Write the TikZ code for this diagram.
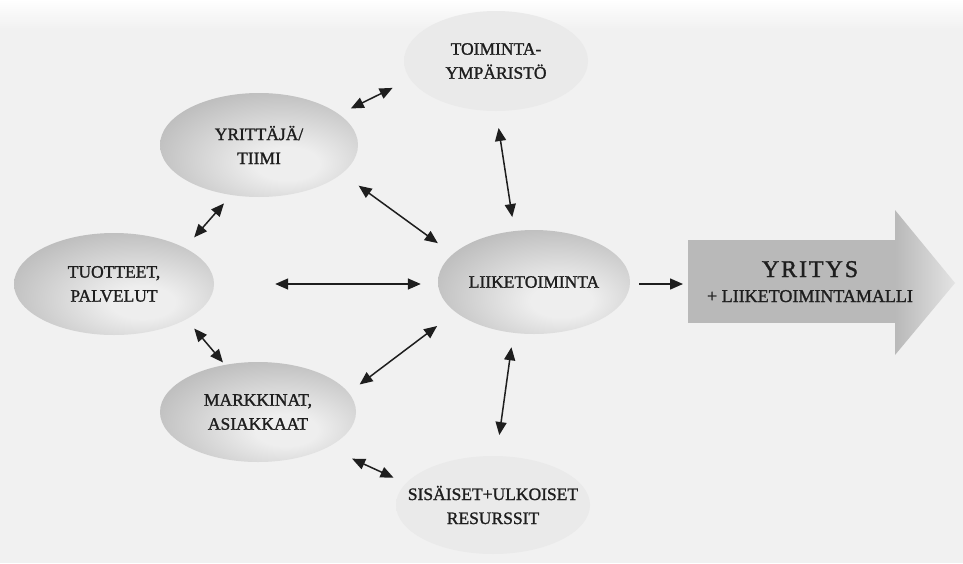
\documentclass[tikz,border=0pt]{standalone}
\usepackage{fontspec}
\setmainfont{Liberation Serif}
\newfontfamily\labelfont{Liberation Serif}[FakeBold=1.3]
\usetikzlibrary{shapes.geometric,arrows.meta}

\definecolor{paper}{HTML}{F1F1F1}
\definecolor{ink}{HTML}{1E1E1E}
\definecolor{ovalin}{HTML}{EEEEEE}
\definecolor{ovalout}{HTML}{A0A0A0}
\definecolor{palein}{HTML}{EAEAEA}
\definecolor{paleout}{HTML}{DADADA}

% soft radial fills for the ovals (the darker ones are lit from lower right)
\pgfdeclareradialshading{darkoval}{\pgfpoint{8bp}{-10bp}}{%
  color(0bp)=(ovalin); color(8bp)=(ovalin); color(48bp)=(ovalout); color(80bp)=(ovalout)}
\pgfdeclareradialshading{paleoval}{\pgfpoint{0bp}{0bp}}{%
  color(0bp)=(palein); color(28bp)=(palein); color(50bp)=(paleout); color(80bp)=(paleout)}

\begin{document}
\begin{tikzpicture}[x=1pt,y=-1pt,
  oval/.style={ellipse, inner sep=0pt, text=ink, align=center,
    font=\labelfont\fontsize{17.5}{24}\selectfont},
  darkfill/.style={shading=darkoval},
  palefill/.style={shading=paleoval},
  tip/.tip={Triangle[length=13pt,width=11pt]},
  link/.style={draw=ink, line width=1.5pt, tip-tip},
  feed/.style={draw=ink, line width=1.5pt, -tip},
]
\useasboundingbox (0,0) rectangle (963,563);
\fill[paper] (0,0) rectangle (963,563);
\shade[top color=white, bottom color=paper] (0,0) rectangle (963,28);

% ovals
\node[oval, palefill, minimum width=184pt, minimum height=100pt] (env) at (496,61) {TOIMINTA-\\YMPÄRISTÖ};
\node[oval, darkfill, minimum width=198pt, minimum height=104pt] (team) at (259,145) {YRITTÄJÄ/\\TIIMI};
\node[oval, darkfill, minimum width=200pt, minimum height=102pt] (prod) at (114,284) {TUOTTEET,\\PALVELUT};
\node[oval, darkfill, minimum width=192pt, minimum height=104pt, inner xsep=-20pt] (biz) at (534,282) {LIIKETOIMINTA};
\node[oval, darkfill, minimum width=196pt, minimum height=100pt] (mkt) at (258,412) {MARKKINAT,\\ASIAKKAAT};
\node[oval, palefill, minimum width=194pt, minimum height=98pt, inner xsep=-30pt] (res) at (493,505) {SISÄISET+ULKOISET\\RESURSSIT};

% outcome arrow: even grey shaft, head fading out to the right
\fill[gray!55] (688,240) rectangle (896,323);
\shade[left color=gray!55, right color=gray!22]
  (895,240) -- (895,210) -- (955,283) -- (895,355) -- (895,323) -- cycle;
\coordinate (firmtail) at (688,284);
\node[anchor=base, text=ink, font=\labelfont\fontsize{24}{26}\selectfont\addfontfeature{LetterSpace=8}] (firm) at (810,277) {YRITYS};
\node[anchor=base, text=ink, font=\labelfont\fontsize{18}{20}\selectfont] (model) at (810,302) {+ LIIKETOIMINTAMALLI};

% connectors
\draw[link, shorten <=13pt, shorten >=19.5pt] (team.21.7) -- (env.192.4);
\draw[link, shorten <=17pt, shorten >=14pt] (env.270) -- (biz.111.3);
\draw[link, shorten <=20.6pt, shorten >=18.5pt] (team.-19.3) -- (biz.161.8);
\draw[link, shorten <=14pt, shorten >=11pt] (prod.27.8) -- (team.241);
\draw[link, shorten <=61pt, shorten >=17pt] (prod.east) -- (prod.east -| biz.west);
\draw[link, shorten <=12pt, shorten >=3pt] (prod.-26.9) -- (mkt.125.1);
\draw[link, shorten <=13.7pt, shorten >=23pt] (mkt.12.4) -- (biz.201);
\draw[link, shorten <=14.4pt, shorten >=21pt] (biz.248.6) -- (res.86.6);
\draw[link, shorten <=27pt, shorten >=13.5pt] (mkt.-27.2) -- (res.166.4);
\draw[feed, shorten <=9pt, shorten >=5pt] (biz.east |- firmtail) -- (firmtail);
\end{tikzpicture}
\end{document}
